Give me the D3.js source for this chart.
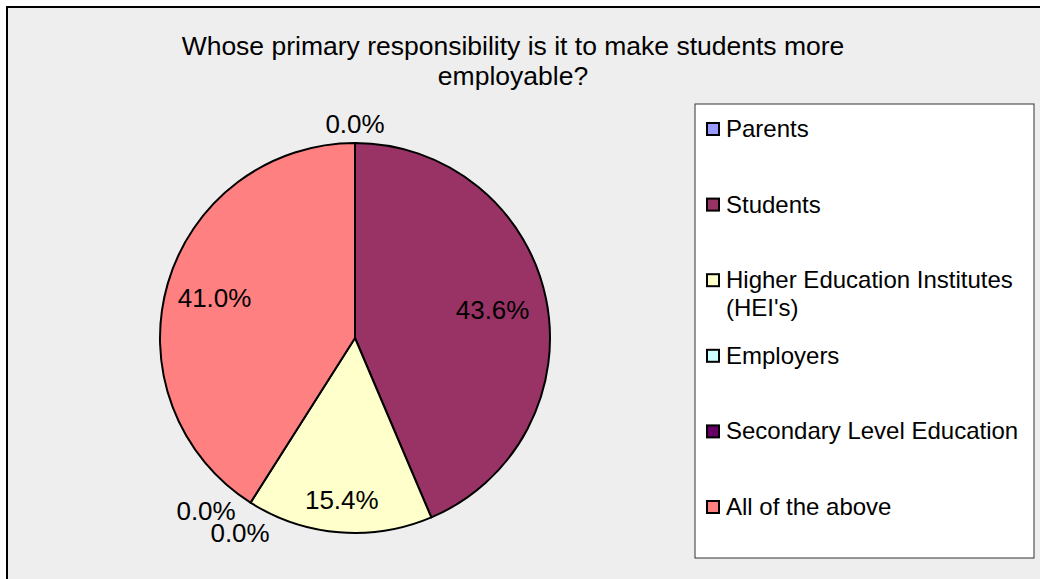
<!DOCTYPE html>
<html>
<head>
<meta charset="utf-8">
<script src="https://cdn.jsdelivr.net/npm/d3@7"></script>
<style>
  html, body { margin: 0; padding: 0; background: #ffffff; }
  svg { display: block; }
  .narrow { font-family: "Liberation Sans Narrow", "Arial Narrow", "Liberation Sans", Arial, sans-serif; }
  .regular { font-family: "Liberation Sans", Arial, sans-serif; }
</style>
</head>
<body>
<svg id="chart" width="1040" height="579"></svg>
<script>
// Survey answers: share of respondents per category (%)
const categories = [
  "Parents",
  "Students",
  "Higher Education Institutes (HEI's)",
  "Employers",
  "Secondary Level Education",
  "All of the above"
];
const values = [0.0, 43.6, 15.4, 0.0, 0.0, 41.0];
const legendLines = [
  ["Parents"],
  ["Students"],
  ["Higher Education Institutes", "(HEI's)"],
  ["Employers"],
  ["Secondary Level Education"],
  ["All of the above"]
];
const titleLines = [
  "Whose primary responsibility is it to make students more",
  "employable?"
];
const colors = ["#9999FF", "#993366", "#FFFFCC", "#CCFFFF", "#660066", "#FF8080"];

// Layout
const W = 1040, H = 579;
const cx = 355, cy = 338, R = 195;
// radial placement of the value labels (fraction of radius)
const labelRadius = { inside: 0.75, outside: 1.1 };
const labelRadiusByCat = {
  "Students": 0.72,
  "Higher Education Institutes (HEI's)": 0.83,
  "All of the above": 0.75
};
// nudges for coincident zero-value labels
const labelNudge = {
  "Employers": [-34, -8],
  "Secondary Level Education": [0, 14]
};

const svg = d3.select("#chart");

// chart area with border
svg.append("rect")
  .attr("x", 7).attr("y", 7)
  .attr("width", W + 10).attr("height", H + 10)
  .attr("fill", "#EEEEEE")
  .attr("stroke", "#000").attr("stroke-width", 2);

// title
svg.append("g").selectAll("text")
  .data(titleLines)
  .join("text")
  .attr("class", "narrow")
  .attr("x", 513)
  .attr("y", (d, i) => 55 + i * 30)
  .attr("text-anchor", "middle")
  .attr("font-size", 26.5)
  .attr("fill", "#000")
  .text(d => d);

// pie
const data = categories.map((c, i) => ({ cat: c, value: values[i], color: colors[i] }));
const pie = d3.pie().sort(null).value(d => d.value);
const arcs = pie(data);
const arc = d3.arc().innerRadius(0).outerRadius(R);

const g = svg.append("g").attr("transform", `translate(${cx},${cy})`);
g.selectAll("path")
  .data(arcs.filter(a => a.data.value > 0))
  .join("path")
  .attr("d", arc)
  .attr("fill", d => d.data.color)
  .attr("stroke", "#000")
  .attr("stroke-width", 2)
  .attr("stroke-linejoin", "round");

// value labels
const fmt = v => v.toFixed(1) + "%";
g.selectAll("text.val")
  .data(arcs)
  .join("text")
  .attr("class", "val narrow")
  .attr("font-size", 26)
  .attr("text-anchor", "middle")
  .attr("dy", "0.36em")
  .attr("fill", "#000")
  .attr("transform", d => {
    const a = (d.startAngle + d.endAngle) / 2;
    const f = d.data.value > 0
      ? (labelRadiusByCat[d.data.cat] ?? labelRadius.inside)
      : labelRadius.outside;
    const n = labelNudge[d.data.cat] || [0, 0];
    const x = Math.sin(a) * R * f + n[0];
    const y = -Math.cos(a) * R * f + n[1];
    return `translate(${x},${y})`;
  })
  .text(d => fmt(d.data.value));

// legend
const lx = 695, ly = 104, lw = 339, lh = 454;
const legend = svg.append("g");
legend.append("rect")
  .attr("x", lx).attr("y", ly).attr("width", lw).attr("height", lh)
  .attr("fill", "#fff").attr("stroke", "#333").attr("stroke-width", 1);

const itemY = d3.scalePoint().domain(categories).range([129, 507]);
const items = legend.selectAll("g.item")
  .data(data)
  .join("g")
  .attr("class", "item")
  .attr("transform", d => `translate(0,${itemY(d.cat)})`);
items.append("rect")
  .attr("x", 707).attr("y", -6)
  .attr("width", 12).attr("height", 12)
  .attr("fill", d => d.color)
  .attr("stroke", "#000").attr("stroke-width", 2);
items.append("text")
  .attr("class", "regular")
  .attr("font-size", 24)
  .attr("fill", "#000")
  .selectAll("tspan")
  .data((d, i) => legendLines[i])
  .join("tspan")
  .attr("x", 726)
  .attr("y", (d, i) => 8 + i * 28)
  .text(d => d);
</script>
</body>
</html>
